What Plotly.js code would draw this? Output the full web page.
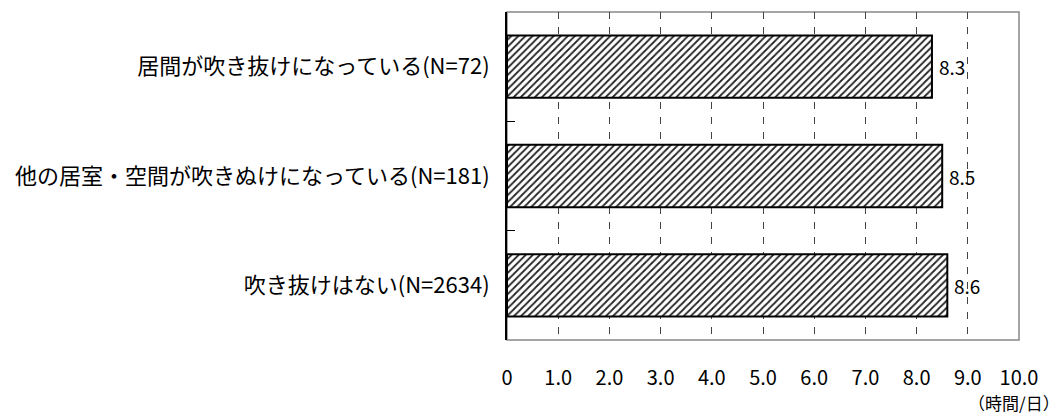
<!DOCTYPE html>
<html><head><meta charset="utf-8">
<script src="https://cdn.plot.ly/plotly-3.0.1.min.js"></script>
<style>html,body{margin:0;padding:0;background:#fff}#chart{width:1062px;height:414px}</style>
</head><body><div id="chart"></div>
<script>
const categories = ["居間が吹き抜けになっている(N=72)", "他の居室・空間が吹きぬけになっている(N=181)", "吹き抜けはない(N=2634)"];
const values = [8.3, 8.5, 8.6];
const valueLabels = ["8.3", "8.5", "8.6"];
const xTickVals = [0,1,2,3,4,5,6,7,8,9,10];
const xTickText = ["0","1.0","2.0","3.0","4.0","5.0","6.0","7.0","8.0","9.0","10.0"];
const unitLabel = "（時間/日）";

const FONT = "'Noto Sans CJK JP', 'Noto Sans', sans-serif";

const trace = {
  type: 'bar', orientation: 'h',
  y: categories, x: values,
  marker: {
    color: '#ffffff',
    line: {color: '#000000', width: 2},
    pattern: {shape: '/', size: 5, solidity: 0.35, fgcolor: '#222222', bgcolor: '#ffffff'}
  },
  hoverinfo: 'none'
};

const annotations = values.map((v, i) => ({
  x: v, y: categories[i], xref: 'x', yref: 'y',
  text: valueLabels[i], showarrow: false, xanchor: 'left', xshift: 5,
  font: {family: FONT, size: 19, color: '#000'}
}));
annotations.push({
  x: 1, y: 0, xref: 'paper', yref: 'paper', xanchor: 'center', yanchor: 'middle',
  xshift: -5, yshift: -62,
  text: unitLabel, showarrow: false, font: {family: FONT, size: 17, color: '#000'}
});

const layout = {
  width: 1062, height: 414,
  margin: {l: 507, r: 43, t: 12, b: 74},
  paper_bgcolor: '#fff', plot_bgcolor: '#fff',
  showlegend: false,
  bargap: 0.43,
  font: {family: FONT, color: '#000'},
  xaxis: {
    range: [0, 10], tickvals: xTickVals, ticktext: xTickText,
    showgrid: true, gridcolor: '#444', gridwidth: 1, griddash: '7px,8px',
    zeroline: false, showline: false,
    ticks: 'outside', ticklen: 20, tickcolor: 'rgba(0,0,0,0)',
    tickfont: {family: FONT, size: 20, color: '#000'},
    fixedrange: true
  },
  yaxis: {
    type: 'category', autorange: 'reversed',
    showline: true, linecolor: '#000', linewidth: 2,
    ticks: 'inside', tickson: 'boundaries', ticklen: 8, tickcolor: '#000', tickwidth: 1,
    showgrid: false, zeroline: false,
    tickfont: {family: FONT, size: 22, color: '#000'},
    ticklabelstandoff: 11,
    fixedrange: true
  },
  shapes: [{
    type: 'rect', xref: 'paper', yref: 'paper', x0: 0, x1: 1, y0: 0, y1: 1,
    line: {color: '#888', width: 1.5}, layer: 'below'
  }],
  annotations: annotations
};

Plotly.newPlot('chart', [trace], layout, {displayModeBar: false, staticPlot: true});
</script>
</body></html>
